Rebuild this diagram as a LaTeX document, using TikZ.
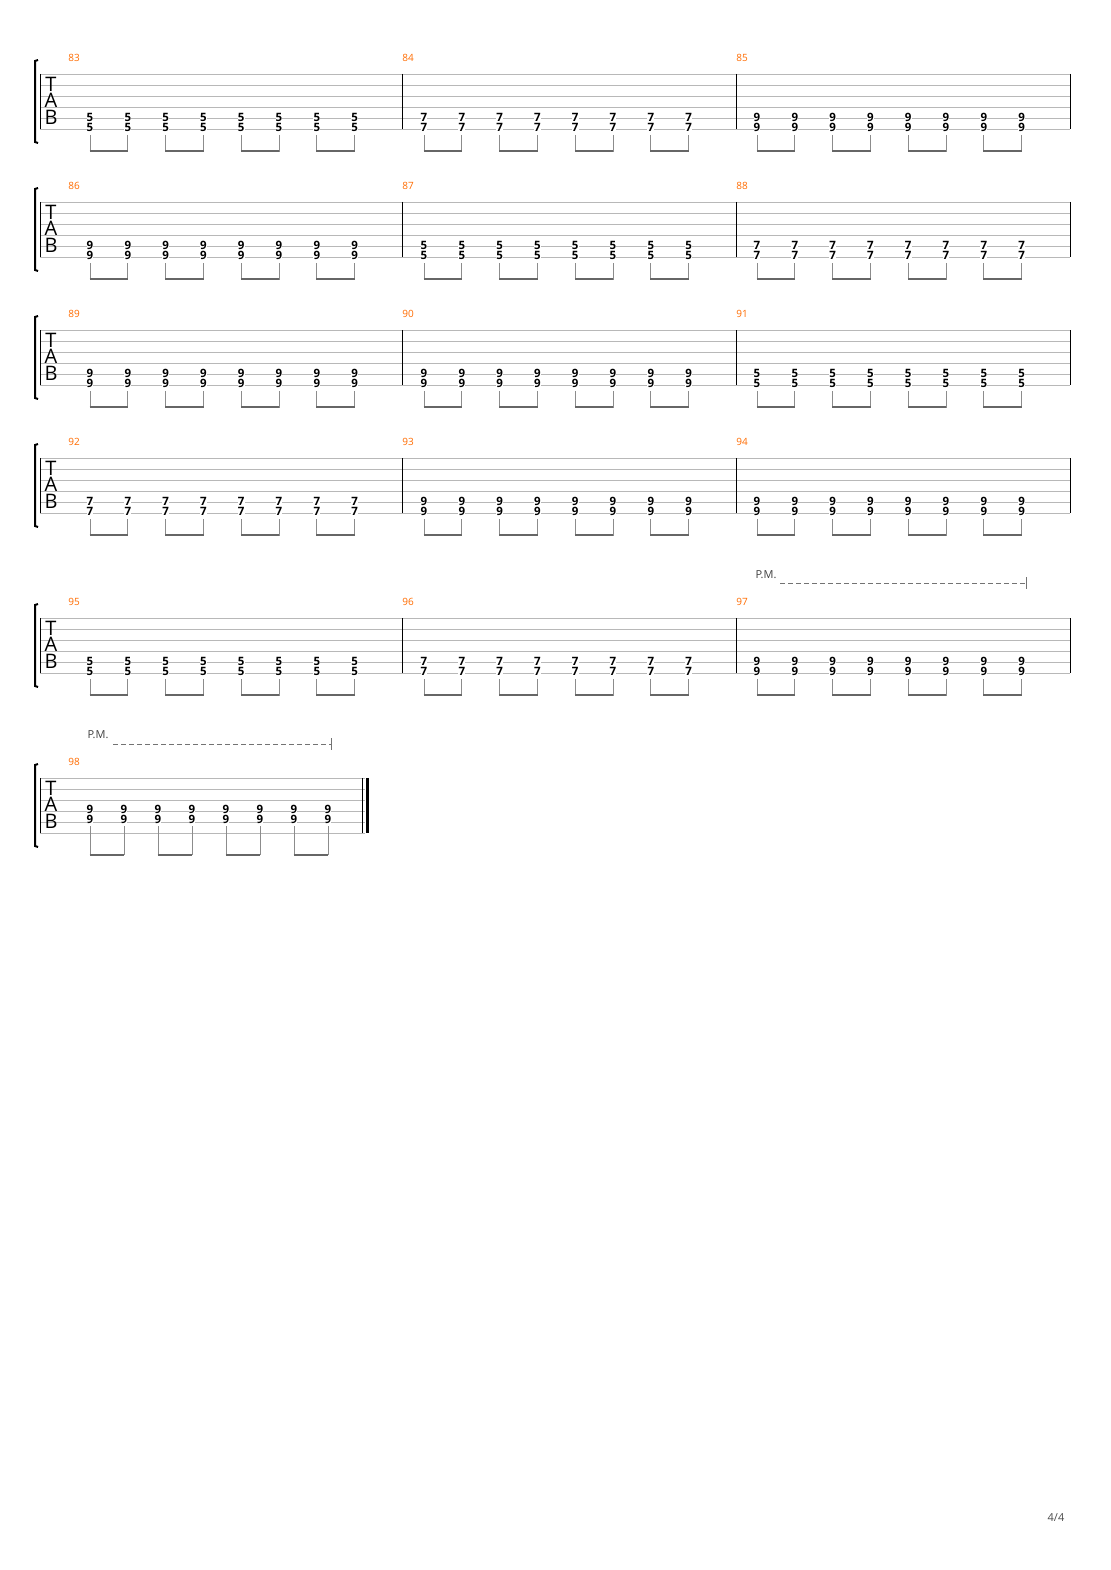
\documentclass[tikz,border=0pt]{standalone}
\usepackage{fontspec}
\setmainfont{Open Sans}
\begin{document}
\begin{tikzpicture}[x=1pt,y=-1pt,
  staffline/.style={draw=black!28,line width=0.7pt},
  fret/.style={font=\bfseries\fontsize{11.5}{11.5}\selectfont,fill=white,inner sep=0.2pt},
  mnum/.style={font=\fontsize{10}{10}\selectfont,text=orange!85!red},
  tabl/.style={font=\fontsize{20}{20}\selectfont,inner sep=0pt},
  stem/.style={draw=black!45,line width=0.8pt},
  beam/.style={draw=black!60,line width=2.2pt},
  pm/.style={font=\fontsize{11}{11}\selectfont,text=black!75}]
\useasboundingbox (0,0) rectangle (1110,1570);
\fill[white] (0,0) rectangle (1110,1570);
\def\drawsystem#1#2#3#4#5#6#7{%
  \foreach \i in {0,...,5} \draw[staffline] (40,#1+11*\i) -- (1070,#1+11*\i);
  \draw[line width=0.6pt] (40,#1) -- (40,#1+55);
  \draw[line width=0.6pt] (402,#1) -- (402,#1+55);
  \draw[line width=0.6pt] (736,#1) -- (736,#1+55);
  \draw[line width=0.6pt] (1070,#1) -- (1070,#1+55);
  \draw[line width=2pt] (38,#1-14) -- (35,#1-13) -- (35,#1+68) -- (38,#1+69);
  \node[tabl] at (51,#1+10) {T};
  \node[tabl] at (51,#1+26) {A};
  \node[tabl] at (51,#1+43) {B};
  \node[mnum] at (74,#1-16) {#2};
  \node[mnum] at (408,#1-16) {#4};
  \node[mnum] at (742,#1-16) {#6};
  \foreach \s/\f in {90/#3,424/#5,757/#7}{
    \foreach \k in {0,...,7}{
      \pgfmathsetmacro\xx{\s+37.8*\k}
      \node[fret] at (\xx,#1+43) {\f};
      \node[fret] at (\xx,#1+53) {\f};
      \draw[stem] (\xx,#1+61) -- (\xx,#1+78);
    }
    \foreach \k in {0,2,4,6}{
      \draw[beam] (\s+37.8*\k-0.4,#1+77) -- (\s+37.8*\k+38.2,#1+77);
    }
  }
}
\drawsystem{74}{83}{5}{84}{7}{85}{9}
\drawsystem{202}{86}{9}{87}{5}{88}{7}
\drawsystem{330}{89}{9}{90}{9}{91}{5}
\drawsystem{458}{92}{7}{93}{9}{94}{9}
\drawsystem{618}{95}{5}{96}{7}{97}{9}
% last system
\foreach \i in {0,...,5} \draw[staffline] (40,778+11*\i) -- (365,778+11*\i);
\draw[line width=0.6pt] (40,778) -- (40,833);
\draw[line width=0.6pt] (362,778) -- (362,833);
\draw[line width=2.4pt] (367.5,778) -- (367.5,833);
\draw[line width=2pt] (38,764) -- (35,765) -- (35,846) -- (38,847);
\node[tabl] at (51,788) {T};
\node[tabl] at (51,804) {A};
\node[tabl] at (51,821) {B};
\node[mnum] at (74,762) {98};
\foreach \k in {0,...,7}{
  \pgfmathsetmacro\xx{90+34*\k}
  \node[fret] at (\xx,809) {9};
  \node[fret] at (\xx,819) {9};
  \draw[stem] (\xx,826) -- (\xx,855);
}
\foreach \k in {0,2,4,6} \draw[beam] (90+34*\k-0.4,855) -- (90+34*\k+34.4,855);
% P.M.
\node[pm] (pm1) at (766,575) {P.M.};
\draw[black!55,line width=0.8pt,dash pattern=on 5pt off 3pt] (780,583) -- (1026,583);
\draw[black!55,line width=0.8pt] (1026,577) -- (1026,589);
\node[pm] (pm2) at (98,735) {P.M.};
\draw[black!55,line width=0.8pt,dash pattern=on 5pt off 3pt] (113,744) -- (331,744);
\draw[black!55,line width=0.8pt] (331,738) -- (331,750);
\node[font=\fontsize{11}{11}\selectfont,text=black!70] (pg) at (1056,1518) {4/4};
\end{tikzpicture}
\end{document}
